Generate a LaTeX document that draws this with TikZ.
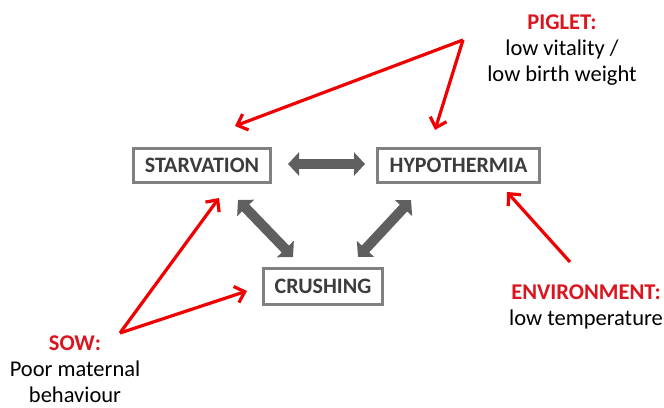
\documentclass[tikz,border=0pt]{standalone}
\usepackage{fontspec}
\setmainfont{Carlito}
\usetikzlibrary{arrows.meta}
\definecolor{boxgray}{RGB}{128,128,128}
\definecolor{arrgray}{RGB}{95,95,95}
\definecolor{txtgray}{RGB}{60,60,60}
\definecolor{lblred}{RGB}{220,20,30}
\definecolor{arrred}{RGB}{240,0,0}
\begin{document}
\begin{tikzpicture}[x=1pt,y=1pt,
  box/.style={draw=boxgray,line width=3pt,fill=white,inner sep=0pt,text=txtgray,
    font=\fontsize{22}{26}\selectfont\bfseries},
  fat/.style={draw=arrgray,line width=10pt,{Triangle[length=11pt,width=23pt]}-{Triangle[length=11pt,width=23pt]}},
  redarr/.style={draw=arrred,line width=3.2pt,-{Straight Barb[length=9pt,width=17pt]}},
  lbl/.style={align=center,inner sep=0pt,font=\fontsize{22.5}{26}\selectfont,text=black}]
\useasboundingbox (0,0) rectangle (664,407);
% boxes
\node[box,minimum width=137pt,minimum height=34pt] (s) at (202,241.5) {STARVATION};
\node[box,minimum width=162pt,minimum height=34pt] (h) at (458.5,241.5) {HYPOTHERMIA};
\node[box,minimum width=119pt,minimum height=36pt] (c) at (323,120.5) {CRUSHING};
% labels
\node[lbl] (pig) at (562,357) {{\color{lblred}\bfseries PIGLET:}\\low vitality /\\low birth weight};
\node[lbl] (env) at (586,100) {{\color{lblred}\bfseries ENVIRONMENT:}\\low temperature};
\node[lbl] (sow) at (75,38) {{\color{lblred}\bfseries SOW:}\\Poor maternal\\behaviour};
% coordinates for connectors
\coordinate (sh1) at (288,243);
\coordinate (sh2) at (365,243);
\coordinate (sc1) at (238,207);
\coordinate (sc2) at (293,150);
\coordinate (hc1) at (411,207);
\coordinate (hc2) at (358,150);
\coordinate (pv) at (463,367);
\coordinate (pt1) at (235,281);
\coordinate (pt2) at (435,277);
\coordinate (sv) at (120,74);
\coordinate (st1) at (219,209);
\coordinate (st2) at (247,116);
\coordinate (ev) at (570,145);
\coordinate (et) at (507,215);
% gray double arrows
\draw[fat] (sh1) -- (sh2);
\draw[fat] (sc1) -- (sc2);
\draw[fat] (hc1) -- (hc2);
% red arrows
\draw[redarr,line join=round] (pv) -- (pt1);
\draw[redarr,line join=round] (pv) -- (pt2);
\draw[redarr] (sv) -- (st1);
\draw[redarr] (sv) -- (st2);
\draw[redarr] (ev) -- (et);
\end{tikzpicture}
\end{document}
